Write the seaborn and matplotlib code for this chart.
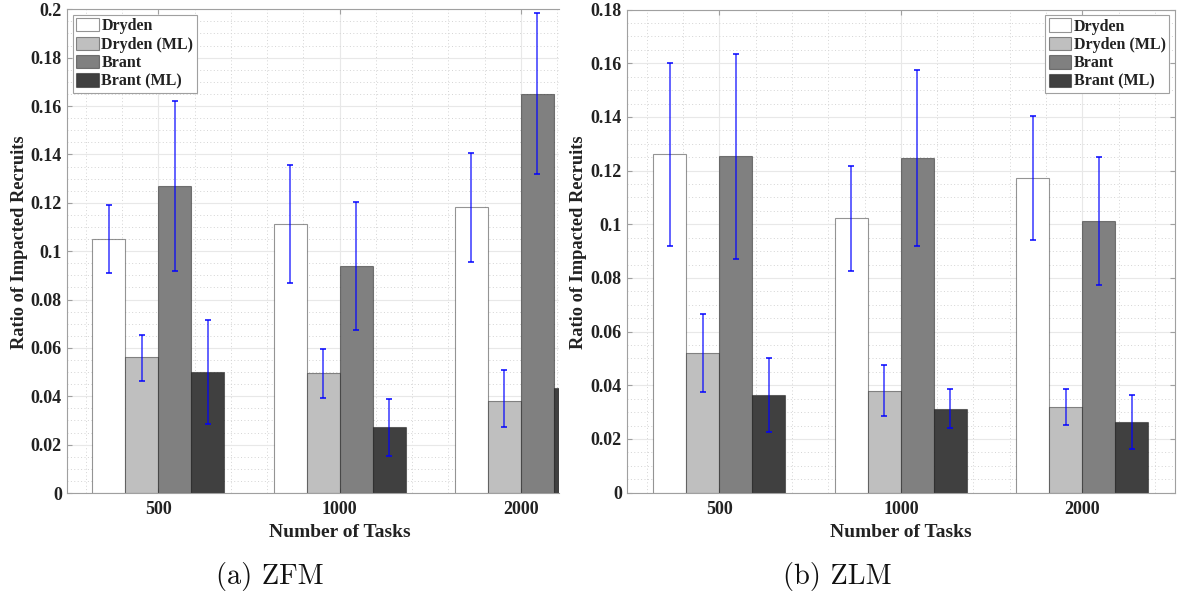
import numpy as np
import pandas as pd
import matplotlib
matplotlib.use("Agg")
import matplotlib.pyplot as plt
import seaborn as sns
from matplotlib.ticker import MultipleLocator, FixedLocator, FixedFormatter
from matplotlib.patches import Patch, Rectangle

# ---- data -------------------------------------------------------------
tasks = ["500", "1000", "2000"]
methods = ["Dryden", "Dryden (ML)", "Brant", "Brant (ML)"]

# ZFM: mean ratio and error-bar bounds, one row per method, one column per task count
zfm_mean = [
    [0.1050, 0.1111, 0.1181],
    [0.0561, 0.0495, 0.0379],
    [0.1270, 0.0937, 0.1648],
    [0.0499, 0.0272, 0.0433],
]
zfm_low = [
    [0.0911, 0.0868, 0.0956],
    [0.0463, 0.0391, 0.0272],
    [0.0919, 0.0674, 0.1319],
    [0.0285, 0.0153, np.nan],
]
zfm_high = [
    [0.1192, 0.1357, 0.1407],
    [0.0653, 0.0597, 0.0510],
    [0.1622, 0.1202, 0.1983],
    [0.0716, 0.0387, np.nan],
]

# ZLM
zlm_mean = [
    [0.1261, 0.1022, 0.1173],
    [0.0519, 0.0378, 0.0318],
    [0.1253, 0.1246, 0.1011],
    [0.0363, 0.0313, 0.0264],
]
zlm_low = [
    [0.0920, 0.0827, 0.0941],
    [0.0376, 0.0284, 0.0251],
    [0.0871, 0.0920, 0.0773],
    [0.0225, 0.0241, 0.0164],
]
zlm_high = [
    [0.1600, 0.1218, 0.1405],
    [0.0667, 0.0474, 0.0385],
    [0.1635, 0.1575, 0.1252],
    [0.0503, 0.0385, 0.0365],
]

zfm_yticks = [0, 0.02, 0.04, 0.06, 0.08, 0.10, 0.12, 0.14, 0.16, 0.18, 0.20]
zfm_yticklabels = ["0", "0.02", "0.04", "0.06", "0.08", "0.1", "0.12", "0.14", "0.16", "0.18", "0.2"]
zlm_yticks = [0, 0.02, 0.04, 0.06, 0.08, 0.10, 0.12, 0.14, 0.16, 0.18]
zlm_yticklabels = ["0", "0.02", "0.04", "0.06", "0.08", "0.1", "0.12", "0.14", "0.16", "0.18"]

# ---- style ------------------------------------------------------------
bar_colors = ["#ffffff", "#bfbfbf", "#808080", "#404040"]
bar_edge = (0, 0, 0, 0.42)
err_color = (0, 0, 1, 0.78)
spine_c = "#a0a0a0"
text_c = "#222222"

sns.set_theme(style="white")
plt.rcParams["font.family"] = ["Liberation Serif", "DejaVu Serif"]
plt.rcParams["font.weight"] = "bold"
plt.rcParams["axes.labelweight"] = "bold"

fig = plt.figure(figsize=(11.8, 5.97), dpi=100)
W, H = 1180, 597


def add_axes_px(x0, x1, y_top, y_bot):
    return fig.add_axes([x0 / W, 1 - y_bot / H, (x1 - x0) / W, (y_bot - y_top) / H])


def panel(ax, mean, low, high, ymax, yticks, yticklabels, xlim, legend_loc, legend_anchor, right_spine):
    rows = []
    for mi, m in enumerate(methods):
        for ti, t in enumerate(tasks):
            rows.append({"tasks": t, "method": m, "ratio": mean[mi][ti]})
    df = pd.DataFrame(rows)

    sns.barplot(
        data=df, x="tasks", y="ratio", hue="method",
        order=tasks, hue_order=methods,
        palette=dict(zip(methods, bar_colors)), saturation=1,
        width=0.7273, edgecolor=bar_edge, linewidth=0.8,
        errorbar=None, legend=False, ax=ax, zorder=2,
    )

    # bars sorted left to right: task-major, method-minor
    bars = sorted([p for p in ax.patches if isinstance(p, Rectangle)],
                  key=lambda p: p.get_x())
    for k, bar in enumerate(bars):
        ti, mi = divmod(k, len(methods))
        xc = bar.get_x() + bar.get_width() / 2
        m = mean[mi][ti]
        lo, hi = low[mi][ti], high[mi][ti]
        if np.isnan(lo) or np.isnan(hi):
            continue
        ax.errorbar(
            xc, m, yerr=[[m - lo], [hi - m]], fmt="none",
            ecolor=err_color, elinewidth=1.1, capsize=2.0, capthick=1.4, zorder=4,
        )

    ax.set_xlim(*xlim)
    ax.set_ylim(0, ymax)
    ax.yaxis.set_major_locator(FixedLocator(yticks))
    ax.yaxis.set_major_formatter(FixedFormatter(yticklabels))
    ax.yaxis.set_minor_locator(MultipleLocator(0.005))
    ax.xaxis.set_minor_locator(MultipleLocator(0.2))

    ax.set_axisbelow(True)
    ax.grid(True, which="major", color="#e8e8e8", linewidth=0.8, linestyle="-")
    ax.grid(True, which="minor", color="#d4d4d4", linewidth=0.7, linestyle=(0, (1, 2.5)))

    ax.tick_params(which="major", direction="in", length=3.5, width=0.8, color=spine_c,
                   labelsize=13, labelcolor=text_c, pad=3.5,
                   top=True, right=right_spine, left=True, bottom=True)
    ax.tick_params(axis="x", which="major", pad=6)
    ax.tick_params(which="minor", length=0)
    for lab in ax.get_xticklabels() + ax.get_yticklabels():
        lab.set_fontweight("bold")

    for name, sp in ax.spines.items():
        sp.set_color(spine_c)
        sp.set_linewidth(0.8)
    ax.spines["right"].set_visible(right_spine)

    ax.set_xlabel("Number of Tasks", fontsize=14, fontweight="bold", color=text_c)
    ax.set_ylabel("Ratio of Impacted Recruits", fontsize=13.2, fontweight="bold", color=text_c)

    handles = [Patch(facecolor=c, edgecolor=bar_edge, linewidth=0.8, label=m)
               for c, m in zip(bar_colors, methods)]
    leg = ax.legend(
        handles=handles, loc=legend_loc, bbox_to_anchor=legend_anchor, borderaxespad=0,
        prop={"size": 11.5, "weight": "bold"}, frameon=True, fancybox=False,
        framealpha=1, edgecolor=spine_c, handlelength=1.43, handleheight=0.9,
        handletextpad=0.15, labelspacing=0.14, borderpad=0.2,
    )
    leg.get_frame().set_linewidth(0.8)
    for t in leg.get_texts():
        t.set_color(text_c)
    return ax


# left panel: ZFM
ax1 = add_axes_px(66.7, 559, 9.3, 493)
panel(ax1, zfm_mean, zfm_low, zfm_high, 0.2, zfm_yticks, zfm_yticklabels,
      (-0.505, 2.21), "upper left", (0.0128, 0.9882), right_spine=False)
w1 = 559 - 66.7
ax1.xaxis.set_label_coords((1 + 0.505) / 2.715, -31.0 / 483.7)
ax1.yaxis.set_label_coords(-38.5 / w1, (493 - 242.5) / 483.7)

# right panel: ZLM
ax2 = add_axes_px(626.7, 1175, 9.6, 492.6)
panel(ax2, zlm_mean, zlm_low, zlm_high, 0.18, zlm_yticks, zlm_yticklabels,
      (-0.51, 2.51), "upper right", (0.989, 0.9882), right_spine=True)
w2 = 1175 - 626.7
ax2.xaxis.set_label_coords(0.5, -31.0 / 483.0)
ax2.yaxis.set_label_coords(-39.5 / w2, (492.6 - 242.5) / 483.0)

# sub-figure captions
fig.text(270 / W, 1 - 576.7 / H, "(a) ZFM", ha="center", va="center",
         fontfamily="cmr10", fontweight="normal", fontsize=20.5, color="#111111")
fig.text(837 / W, 1 - 576.7 / H, "(b) ZLM", ha="center", va="center",
         fontfamily="cmr10", fontweight="normal", fontsize=20.5, color="#111111")

fig.savefig("out.png", dpi=100)
